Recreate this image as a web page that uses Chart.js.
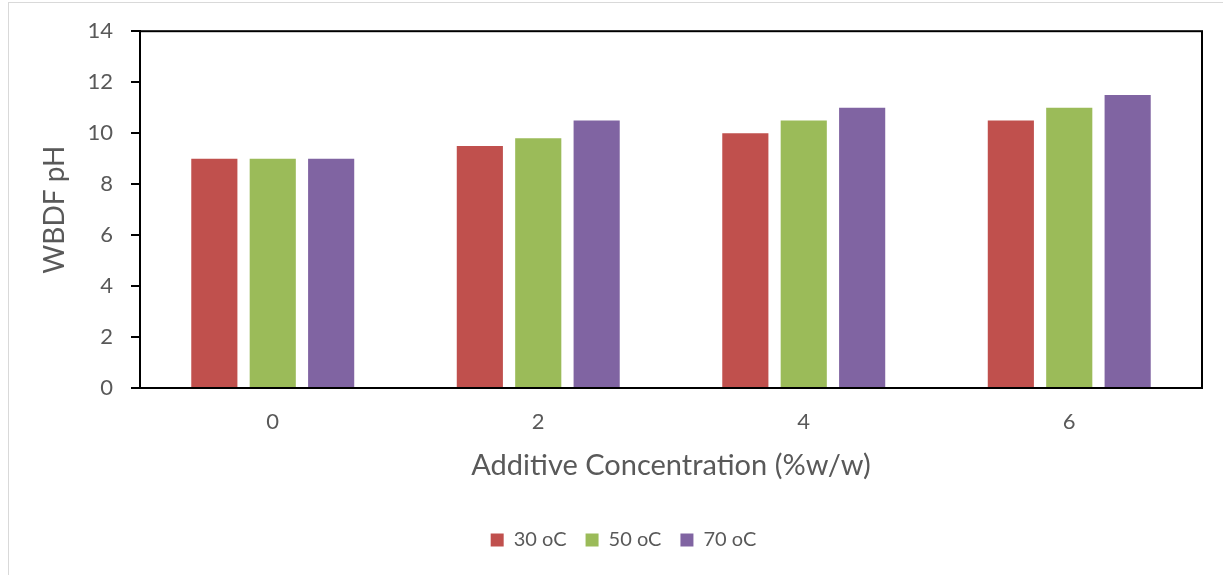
<!DOCTYPE html>
<html>
<head>
<meta charset="utf-8">
<script src="https://cdn.jsdelivr.net/npm/chart.js@4.4.0/dist/chart.umd.min.js"></script>
<style>
  body { margin: 0; background: #fff; }
  #wrap { position: relative; width: 1223px; height: 575px; }
  #frame { position: absolute; left: 8px; top: 2px; width: 1220px; height: 575px; border: 1px solid #d9d9d9; box-sizing: border-box; pointer-events: none; }
  canvas { position: absolute; left: 0; top: 0; }
</style>
</head>
<body>
<div id="wrap">
  <canvas id="myChart" width="1223" height="575"></canvas>
  <div id="frame"></div>
</div>
<script>
const categories = ["0", "2", "4", "6"];
const seriesNames = ["30 oC", "50 oC", "70 oC"];
const ph30 = [9, 9.5, 10, 10.5];
const ph50 = [9, 9.8, 10.5, 11];
const ph70 = [9, 10.5, 11, 11.5];
const colors = ["#C0504D", "#9BBB59", "#8064A2"];

const textColor = "#595959";
const fontName = "Lato, 'Open Sans', sans-serif";

// box round the plot area
const plotBox = {
  id: "plotBox",
  afterDraw(chart) {
    const a = chart.chartArea;
    const c = chart.ctx;
    c.save();
    c.strokeStyle = "#000";
    c.lineWidth = 2;
    c.strokeRect(a.left, a.top, a.right - a.left, a.bottom - a.top);
    c.restore();
  }
};

const ctx = document.getElementById("myChart");
const myChart = new Chart(ctx, {
  type: "bar",
  data: {
    labels: categories,
    datasets: [ph30, ph50, ph70].map((d, i) => ({
      label: seriesNames[i],
      data: d,
      backgroundColor: colors[i],
      categoryPercentage: 0.66,
      barPercentage: 0.79
    }))
  },
  options: {
    responsive: false,
    animation: false,
    layout: { padding: { top: 31, right: 0, left: 24, bottom: 15 } },
    plugins: {
      legend: {
        position: "bottom",
        labels: {
          color: textColor,
          font: { family: fontName, size: 20 },
          boxWidth: 13,
          boxHeight: 13,
          padding: 19
        }
      },
      tooltip: { enabled: false }
    },
    scales: {
      x: {
        grid: { display: false },
        border: { color: "#000", width: 2 },
        ticks: { color: textColor, font: { family: fontName, size: 22 }, padding: 13 },
        title: {
          display: true,
          text: "Additive Concentration (%w/w)",
          color: textColor,
          font: { family: fontName, size: 29 },
          padding: { top: 6, bottom: 28 }
        },
        afterFit(scale) { scale.height = 123; }
      },
      y: {
        min: 0,
        max: 14,
        ticks: { stepSize: 2, color: textColor, font: { family: fontName, size: 22 }, padding: 18 },
        grid: { drawOnChartArea: false, tickLength: 9, color: "#000", lineWidth: 2 },
        border: { color: "#000", width: 2 },
        title: {
          display: true,
          text: "WBDF pH",
          color: textColor,
          font: { family: fontName, size: 28 },
          padding: { top: 14, bottom: 0 }
        },
        afterFit(scale) { scale.width = 116; }
      },
      // empty axis on the right, only to keep space
      yRight: {
        position: "right",
        display: true,
        ticks: { display: false },
        grid: { display: false },
        border: { display: false },
        afterFit(scale) { scale.width = 21; }
      }
    }
  },
  plugins: [plotBox]
});
</script>
</body>
</html>
